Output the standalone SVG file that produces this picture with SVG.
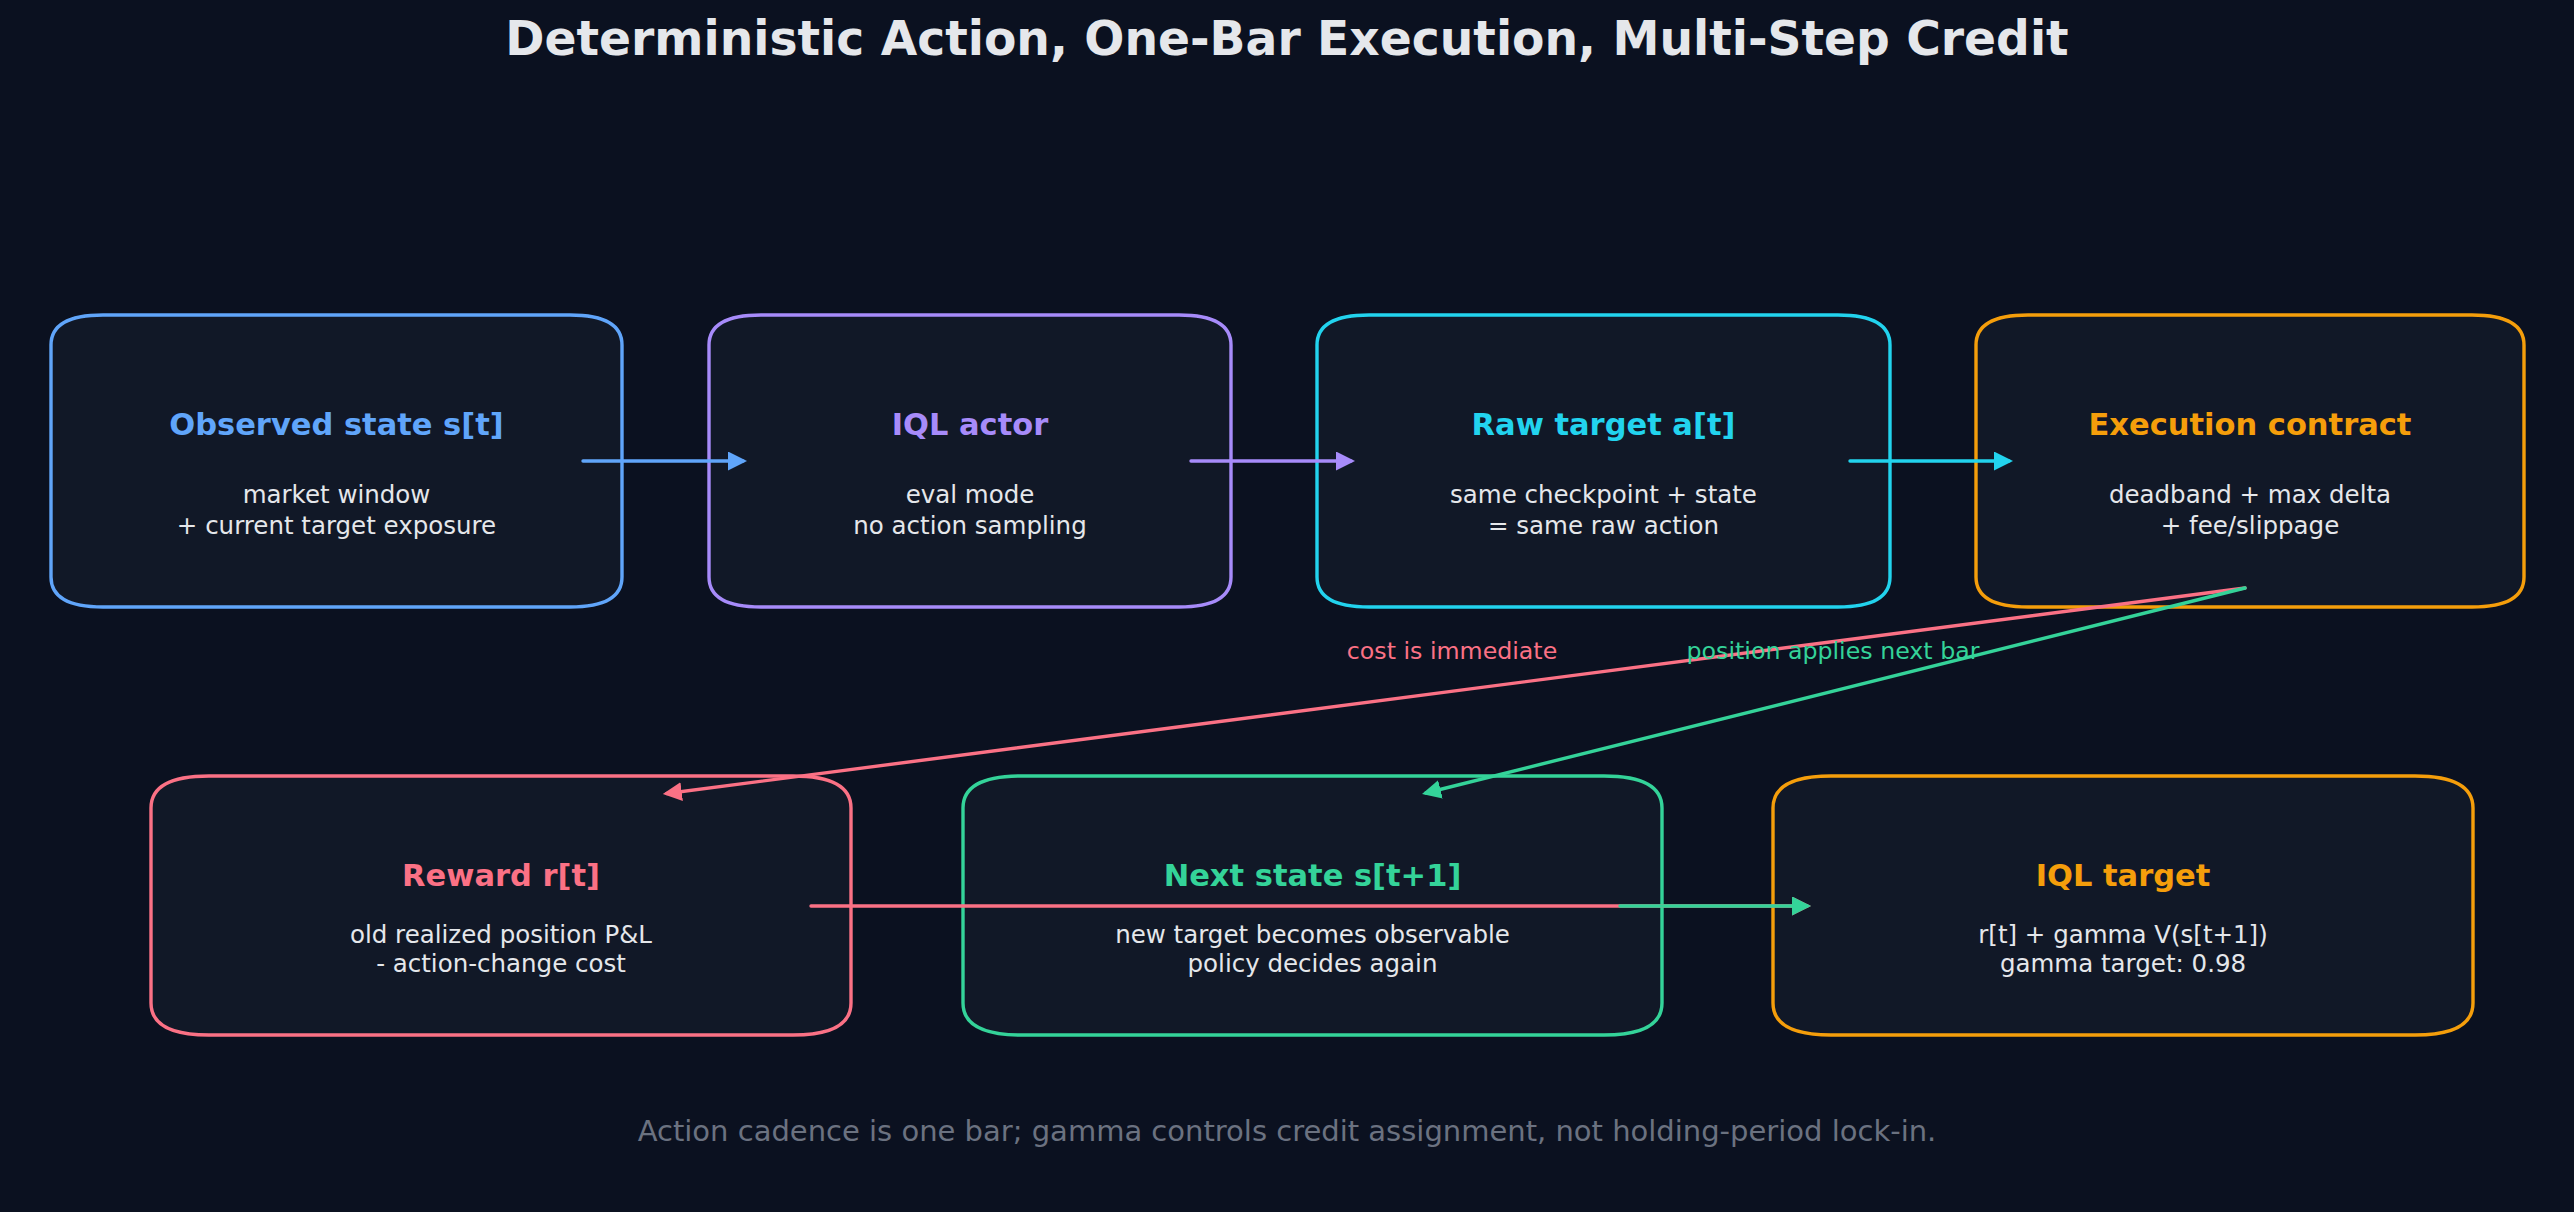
<svg xmlns="http://www.w3.org/2000/svg" width="2574" height="1212" viewBox="0 0 2574 1212">
<defs>
<style>
.bg{fill:#0b1120}
.box{fill:#111827;stroke-width:3.4}
.t{font-family:"DejaVu Sans",sans-serif;text-anchor:middle}
.ttl{font-size:30.5px;font-weight:bold}
.body{font-size:24.5px;fill:#e5e7eb}
.lbl{font-size:23.7px}
.ln{fill:none;stroke-width:3.4;stroke-linecap:round}
</style>
<marker id="mBlue" markerUnits="userSpaceOnUse" markerWidth="20" markerHeight="20" refX="15" refY="9.5" orient="auto"><path d="M0,0 L19,9.5 L0,19 z" fill="#60a5fa"/></marker>
<marker id="mPurple" markerUnits="userSpaceOnUse" markerWidth="20" markerHeight="20" refX="15" refY="9.5" orient="auto"><path d="M0,0 L19,9.5 L0,19 z" fill="#a78bfa"/></marker>
<marker id="mCyan" markerUnits="userSpaceOnUse" markerWidth="20" markerHeight="20" refX="15" refY="9.5" orient="auto"><path d="M0,0 L19,9.5 L0,19 z" fill="#22d3ee"/></marker>
<marker id="mPink" markerUnits="userSpaceOnUse" markerWidth="20" markerHeight="20" refX="15" refY="9.5" orient="auto"><path d="M0,0 L19,9.5 L0,19 z" fill="#fb7185"/></marker>
<marker id="mGreen" markerUnits="userSpaceOnUse" markerWidth="20" markerHeight="20" refX="15" refY="9.5" orient="auto"><path d="M0,0 L19,9.5 L0,19 z" fill="#34d399"/></marker>
</defs>
<rect class="bg" x="0" y="0" width="2574" height="1212"/>
<text class="t" x="1287" y="55" font-size="47.2" font-weight="bold" fill="#e5e7eb">Deterministic Action, One-Bar Execution, Multi-Step Credit</text>

<g id="node-observed">
<path class="box" d="M103,315 H570 Q622,315 622,345 V577 Q622,607 570,607 H103 Q51,607 51,577 V345 Q51,315 103,315 Z" stroke="#60a5fa"/>
<text class="t ttl" x="336.5" y="435" fill="#60a5fa">Observed state s[t]</text>
<text class="t body" x="336.5" y="503">market window</text>
<text class="t body" x="336.5" y="534">+ current target exposure</text>
</g>
<g id="node-actor">
<path class="box" d="M761,315 H1179 Q1231,315 1231,345 V577 Q1231,607 1179,607 H761 Q709,607 709,577 V345 Q709,315 761,315 Z" stroke="#a78bfa"/>
<text class="t ttl" x="970" y="435" fill="#a78bfa">IQL actor</text>
<text class="t body" x="970" y="503">eval mode</text>
<text class="t body" x="970" y="534">no action sampling</text>
</g>
<g id="node-raw">
<path class="box" d="M1369,315 H1838 Q1890,315 1890,345 V577 Q1890,607 1838,607 H1369 Q1317,607 1317,577 V345 Q1317,315 1369,315 Z" stroke="#22d3ee"/>
<text class="t ttl" x="1603.5" y="435" fill="#22d3ee">Raw target a[t]</text>
<text class="t body" x="1603.5" y="503">same checkpoint + state</text>
<text class="t body" x="1603.5" y="534">= same raw action</text>
</g>
<g id="node-exec">
<path class="box" d="M2028,315 H2472 Q2524,315 2524,345 V577 Q2524,607 2472,607 H2028 Q1976,607 1976,577 V345 Q1976,315 2028,315 Z" stroke="#f59e0b"/>
<text class="t ttl" x="2250" y="435" fill="#f59e0b">Execution contract</text>
<text class="t body" x="2250" y="503">deadband + max delta</text>
<text class="t body" x="2250" y="534">+ fee/slippage</text>
</g>
<g id="node-reward">
<path class="box" d="M209,776 H793 Q851,776 851,808 V1003 Q851,1035 793,1035 H209 Q151,1035 151,1003 V808 Q151,776 209,776 Z" stroke="#fb7185"/>
<text class="t ttl" x="501" y="886" fill="#fb7185">Reward r[t]</text>
<text class="t body" x="501" y="943">old realized position P&amp;L</text>
<text class="t body" x="501" y="972">- action-change cost</text>
</g>
<g id="node-next">
<path class="box" d="M1021,776 H1604 Q1662,776 1662,808 V1003 Q1662,1035 1604,1035 H1021 Q963,1035 963,1003 V808 Q963,776 1021,776 Z" stroke="#34d399"/>
<text class="t ttl" x="1312.5" y="886" fill="#34d399">Next state s[t+1]</text>
<text class="t body" x="1312.5" y="943">new target becomes observable</text>
<text class="t body" x="1312.5" y="972">policy decides again</text>
</g>
<g id="node-target">
<path class="box" d="M1831,776 H2415 Q2473,776 2473,808 V1003 Q2473,1035 2415,1035 H1831 Q1773,1035 1773,1003 V808 Q1773,776 1831,776 Z" stroke="#f59e0b"/>
<text class="t ttl" x="2123" y="886" fill="#f59e0b">IQL target</text>
<text class="t body" x="2123" y="943">r[t] + gamma V(s[t+1])</text>
<text class="t body" x="2123" y="972">gamma target: 0.98</text>
</g>

<g id="connectors">
<line class="ln" x1="583" y1="461" x2="743" y2="461" stroke="#60a5fa" marker-end="url(#mBlue)"/>
<line class="ln" x1="1191" y1="461" x2="1351" y2="461" stroke="#a78bfa" marker-end="url(#mPurple)"/>
<line class="ln" x1="1850" y1="461" x2="2009" y2="461" stroke="#22d3ee" marker-end="url(#mCyan)"/>
<line class="ln" x1="2245" y1="588" x2="666.8" y2="793.5" stroke="#fb7185" marker-end="url(#mPink)"/>
<line class="ln" x1="2245" y1="588" x2="1425.9" y2="793" stroke="#34d399" marker-end="url(#mGreen)"/>
<line class="ln" x1="811" y1="906" x2="1807" y2="906" stroke="#fb7185" marker-end="url(#mPink)"/>
<line class="ln" x1="1620" y1="906" x2="1807" y2="906" stroke="#34d399" marker-end="url(#mGreen)"/>
<text class="t lbl" x="1452" y="659" fill="#fb7185">cost is immediate</text>
<text class="t lbl" x="1833" y="659" fill="#34d399">position applies next bar</text>
</g>

<text class="t" x="1287" y="1141" font-size="29" fill="#6b7280">Action cadence is one bar; gamma controls credit assignment, not holding-period lock-in.</text>
</svg>
